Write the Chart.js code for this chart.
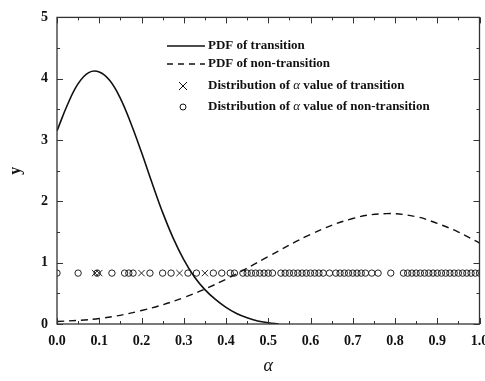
<!DOCTYPE html>
<html>
<head>
<meta charset="utf-8">
<script src="https://cdn.jsdelivr.net/npm/chart.js@4"></script>
<style>
  html, body { margin: 0; padding: 0; background: #fff; }
  #wrap { width: 485px; height: 381px; }
</style>
</head>
<body>
<div id="wrap"><canvas id="graphique"></canvas></div>
<script>
// valeurs
const alphaGrid = [0, 0.025, 0.05, 0.075, 0.1, 0.125, 0.15, 0.175, 0.2, 0.225, 0.25, 0.275, 0.3, 0.325, 0.35, 0.375, 0.4, 0.425, 0.45, 0.475, 0.5, 0.525];
const pdfTransition = [3.15, 3.58, 3.92, 4.1, 4.11, 3.97, 3.68, 3.27, 2.8, 2.3, 1.82, 1.4, 1.05, 0.77, 0.56, 0.4, 0.27, 0.17, 0.1, 0.05, 0.02, 0.0];

const alphaGrid2 = [0, 0.1, 0.2, 0.3, 0.4, 0.5, 0.6, 0.7, 0.78, 0.85, 0.9, 0.95, 1.0];
const pdfNonTransition = [0.04, 0.09, 0.22, 0.43, 0.73, 1.1, 1.46, 1.72, 1.8, 1.75, 1.64, 1.5, 1.32];

const markerLevel = 0.83;
const transitionAlpha = [0.09, 0.1, 0.2, 0.29, 0.35];
const nonTransitionAlpha = [0.0, 0.05, 0.095, 0.13, 0.16, 0.17, 0.18, 0.22, 0.25, 0.27, 0.31, 0.33, 0.37, 0.39, 0.41, 0.42,
  0.44, 0.45, 0.46, 0.47, 0.48, 0.49, 0.5, 0.51, 0.53, 0.54, 0.55, 0.56, 0.57, 0.58, 0.59, 0.6, 0.61, 0.62, 0.63,
  0.645, 0.66, 0.67, 0.68, 0.69, 0.7, 0.71, 0.72, 0.73, 0.745, 0.76, 0.79,
  0.82, 0.83, 0.84, 0.85, 0.86, 0.87, 0.88, 0.89, 0.9, 0.91, 0.92, 0.93, 0.94, 0.95, 0.96, 0.97, 0.98, 0.99, 1.0];

const xTicks = [0, 0.1, 0.2, 0.3, 0.4, 0.5, 0.6, 0.7, 0.8, 0.9, 1.0];
const yTicks = [0, 1, 2, 3, 4, 5];

const serif = "'Liberation Serif', 'Times New Roman', serif";

const toPoints = (xs, ys) => xs.map((x, i) => ({ x: x, y: ys[i] }));
const toRow = (xs) => xs.map((x) => ({ x: x, y: markerLevel }));

// cadre + graduations vers l'intérieur
const framePlugin = {
  id: "frame",
  afterDraw(chart) {
    const ctx = chart.ctx;
    const a = chart.chartArea;
    const sx = chart.scales.x;
    const sy = chart.scales.y;
    ctx.save();
    ctx.strokeStyle = "#333";
    ctx.lineWidth = 1.3;
    ctx.strokeRect(a.left, a.top, a.right - a.left, a.bottom - a.top);
    ctx.lineWidth = 1;
    ctx.beginPath();
    for (let i = 0; i < xTicks.length * 2 - 1; i++) {
      const v = i * 0.05;
      const px = Math.round(sx.getPixelForValue(v)) + 0.5;
      const len = i % 2 === 0 ? 6 : 3;
      ctx.moveTo(px, a.bottom); ctx.lineTo(px, a.bottom - len);
      ctx.moveTo(px, a.top); ctx.lineTo(px, a.top + len);
    }
    for (let i = 0; i < yTicks.length * 2 - 1; i++) {
      const v = i * 0.5;
      const py = Math.round(sy.getPixelForValue(v)) + 0.5;
      const len = i % 2 === 0 ? 6 : 3;
      ctx.moveTo(a.left, py); ctx.lineTo(a.left + len, py);
      ctx.moveTo(a.right, py); ctx.lineTo(a.right - len, py);
    }
    ctx.stroke();
    ctx.restore();
  },
};

// légende dans la zone du graphique
const legendPlugin = {
  id: "legendeMaison",
  afterDraw(chart) {
    const ctx = chart.ctx;
    ctx.save();
    ctx.fillStyle = "#111";
    ctx.strokeStyle = "#111";
    ctx.textBaseline = "middle";
    const bold = "bold 13px " + serif;
    const ital = "italic 13px " + serif;
    const tx = 208;

    const drawParts = (parts, y) => {
      let x = tx;
      for (const p of parts) {
        ctx.font = p[1];
        ctx.fillText(p[0], x, y);
        x += ctx.measureText(p[0]).width;
      }
    };

    ctx.lineWidth = 1.6;
    ctx.beginPath(); ctx.moveTo(167, 46); ctx.lineTo(205, 46); ctx.stroke();
    drawParts([["PDF of transition", bold]], 46);

    ctx.setLineDash([6, 5]);
    ctx.beginPath(); ctx.moveTo(167, 64); ctx.lineTo(205, 64); ctx.stroke();
    ctx.setLineDash([]);
    drawParts([["PDF of non-transition", bold]], 64);

    ctx.lineWidth = 1;
    ctx.beginPath();
    ctx.moveTo(179, 82); ctx.lineTo(187, 90);
    ctx.moveTo(187, 82); ctx.lineTo(179, 90);
    ctx.stroke();
    drawParts([["Distribution of ", bold], ["\u03b1", ital], [" value of transition", bold]], 86);

    ctx.beginPath(); ctx.arc(183, 107, 3, 0, Math.PI * 2); ctx.stroke();
    drawParts([["Distribution of ", bold], ["\u03b1", ital], [" value of non-transition", bold]], 107);
    ctx.restore();
  },
};

const data = {
  datasets: [
    {
      label: "PDF of transition",
      data: toPoints(alphaGrid, pdfTransition),
      borderColor: "#111",
      borderWidth: 1.6,
      pointRadius: 0,
      tension: 0.4,
      showLine: true,
    },
    {
      label: "PDF of non-transition",
      data: toPoints(alphaGrid2, pdfNonTransition),
      borderColor: "#111",
      borderWidth: 1.4,
      borderDash: [7, 5],
      pointRadius: 0,
      tension: 0.4,
      showLine: true,
    },
    {
      label: "Distribution of α value of transition",
      data: toRow(transitionAlpha),
      pointStyle: "crossRot",
      pointRadius: 4.5,
      borderColor: "#222",
      borderWidth: 1,
      showLine: false,
    },
    {
      label: "Distribution of α value of non-transition",
      data: toRow(nonTransitionAlpha),
      pointStyle: "circle",
      pointRadius: 3.2,
      borderColor: "#222",
      backgroundColor: "rgba(0,0,0,0)",
      borderWidth: 1,
      showLine: false,
    },
  ],
};

const config = {
  type: "scatter",
  data: data,
  options: {
    responsive: true,
    maintainAspectRatio: false,
    animation: false,
    layout: { padding: { top: 7, right: 4, left: 0, bottom: 0 } },
    plugins: { legend: { display: false }, tooltip: { enabled: false } },
    scales: {
      x: {
        type: "linear",
        min: 0,
        max: 1,
        grid: { display: false, drawTicks: false },
        border: { display: false },
        afterBuildTicks: (s) => { s.ticks = xTicks.map((v) => ({ value: v })); },
        afterFit: (s) => { s.height = 57; s.paddingLeft = 0; s.paddingRight = 0; },
        ticks: {
          padding: 9,
          color: "#111",
          font: { family: serif, size: 14, weight: "bold" },
          callback: (v) => v.toFixed(1),
          maxRotation: 0,
        },
        title: {
          display: true,
          text: "\u03b1",
          color: "#111",
          font: { family: serif, size: 18, style: "italic" },
          padding: { top: 10 },
        },
      },
      y: {
        type: "linear",
        min: 0,
        max: 5,
        grid: { display: false, drawTicks: false },
        border: { display: false },
        afterBuildTicks: (s) => { s.ticks = yTicks.map((v) => ({ value: v })); },
        afterFit: (s) => { s.width = 57; },
        ticks: {
          padding: 9,
          color: "#111",
          font: { family: serif, size: 14, weight: "bold" },
        },
        title: {
          display: true,
          text: "y",
          color: "#111",
          font: { family: serif, size: 16, weight: "bold" },
          padding: { bottom: 0, top: 6 },
        },
      },
    },
  },
  plugins: [framePlugin, legendPlugin],
};

const graphique = new Chart(document.querySelector("#graphique"), config);
</script>
</body>
</html>
